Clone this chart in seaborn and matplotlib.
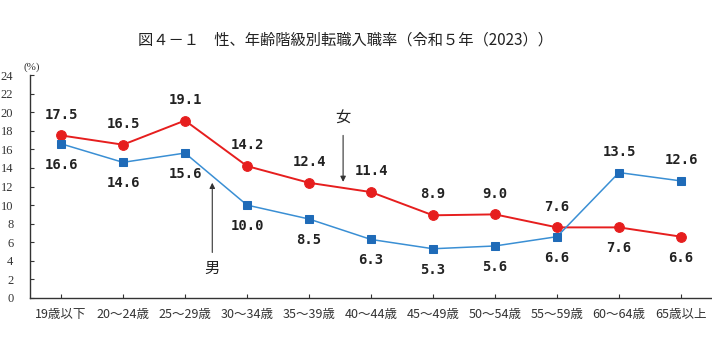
import matplotlib
matplotlib.use("Agg")
import matplotlib.pyplot as plt
import seaborn as sns
import pandas as pd

ages = ["19歳以下", "20～24歳", "25～29歳", "30～34歳", "35～39歳", "40～44歳",
        "45～49歳", "50～54歳", "55～59歳", "60～64歳", "65歳以上"]
male = [16.6, 14.6, 15.6, 10.0, 8.5, 6.3, 5.3, 5.6, 6.6, 13.5, 12.6]
female = [17.5, 16.5, 19.1, 14.2, 12.4, 11.4, 8.9, 9.0, 7.6, 7.6, 6.6]
yticks = list(range(0, 25, 2))

# label above (+1) or below (-1) each point
male_side = [-1, -1, -1, -1, -1, -1, -1, -1, -1, 1, 1]
female_side = [1, 1, 1, 1, 1, 1, 1, 1, 1, -1, -1]

sns.set_theme(style="white")
plt.rcParams["font.family"] = ["Noto Sans CJK JP", "DejaVu Sans"]

RED = "#e61e1e"
BLUE_LINE = "#3a8fd4"
BLUE_MK = "#1f6bb8"

fig = plt.figure(figsize=(7.12, 3.46), dpi=100)
ax = fig.add_axes([30 / 712, 48 / 346, 682 / 712, 223 / 346])

df = pd.DataFrame({"age": ages, "male": male, "female": female})
df["pos"] = range(len(ages))

sns.lineplot(data=df, x="pos", y="female", ax=ax, color=RED, lw=1.4,
             marker="o", markersize=7, markerfacecolor=RED,
             markeredgecolor=RED, zorder=3)
sns.lineplot(data=df, x="pos", y="male", ax=ax, color=BLUE_LINE, lw=1.1,
             marker="s", markersize=6, markerfacecolor=BLUE_MK,
             markeredgecolor=BLUE_MK, zorder=3)

label_font = dict(ha="center", va="center", fontsize=10, fontweight="bold",
                  color="#222222", family=["DejaVu Sans Mono"])
for i, (v, s) in enumerate(zip(female, female_side)):
    ax.annotate(f"{v:.1f}", (i, v), xytext=(0, 15 * s),
                textcoords="offset points", **label_font)
for i, (v, s) in enumerate(zip(male, male_side)):
    ax.annotate(f"{v:.1f}", (i, v), xytext=(0, 15 * s),
                textcoords="offset points", **label_font)

# series callouts
ax.annotate("", xy=(4.55, 12.2), xytext=(4.55, 17.8),
            arrowprops=dict(arrowstyle="-|>", color="#333333", lw=0.8,
                            mutation_scale=8))
ax.text(4.55, 19.4, "女", ha="center", va="center", fontsize=11, color="#222222")
ax.annotate("", xy=(2.44, 12.7), xytext=(2.44, 4.6),
            arrowprops=dict(arrowstyle="-|>", color="#333333", lw=0.8,
                            mutation_scale=8))
ax.text(2.44, 3.2, "男", ha="center", va="center", fontsize=11, color="#222222")

ax.set_xlim(-0.5, len(ages) - 0.5)
ax.set_ylim(0, 24)
ax.set_xticks(range(len(ages)))
ax.set_xticklabels(ages, fontsize=9)
ax.set_yticks(yticks)
ax.set_yticklabels([str(t) for t in yticks], fontsize=9,
                   family=["Liberation Serif"])
ax.tick_params(axis="y", direction="in", length=3, width=0.8, pad=12,
               colors="#333333", left=True)
ax.tick_params(axis="x", direction="in", length=3, width=0.8, pad=7,
               colors="#333333", bottom=True)
ax.set_xlabel("")
ax.set_ylabel("")
for side in ("top", "right"):
    ax.spines[side].set_visible(False)
for side in ("left", "bottom"):
    ax.spines[side].set_color("#333333")
    ax.spines[side].set_linewidth(1.0)

fig.text(32 / 712, 1 - 67 / 346, "(%)", fontsize=8, ha="center", va="center",
         family=["Liberation Serif"], color="#333333")
fig.text(346 / 712, 1 - 40 / 346, "図４－１　性、年齢階級別転職入職率（令和５年（2023））",
         fontsize=11, ha="center", va="center", color="#222222")

fig.savefig("out.png", dpi=100, facecolor="white")
